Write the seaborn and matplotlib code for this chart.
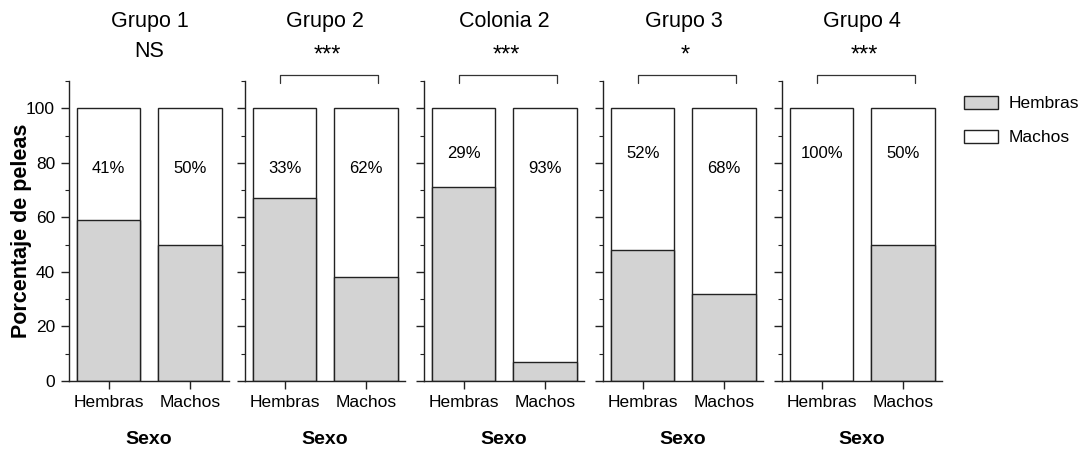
import numpy as np
import pandas as pd
import matplotlib
matplotlib.use("Agg")
import matplotlib.pyplot as plt
from matplotlib.patches import Patch
from matplotlib.ticker import MultipleLocator
import seaborn as sns

# Data: percentage of fights involving males (white part); females fill the rest
groups = ["Grupo 1", "Grupo 2", "Colonia 2", "Grupo 3", "Grupo 4"]
sexes = ["Hembras", "Machos"]
machos_pct = [[41, 50], [33, 62], [29, 93], [52, 68], [100, 50]]
significance = ["NS", "***", "***", "*", "***"]

hembras_pct = [[100 - v for v in row] for row in machos_pct]

sns.set_theme(style="ticks")
plt.rcParams["font.family"] = ["Liberation Sans", "DejaVu Sans"]
plt.rcParams["text.color"] = "black"
plt.rcParams["axes.labelcolor"] = "black"

GRAY = "#d3d3d3"
INK = "#222222"
fig = plt.figure(figsize=(10.78, 4.51), dpi=100)
W, H = 1078, 451
lefts = [69, 245, 424, 603, 782]
ax_w, ax_bottom, ax_h = 160, 70, 300

# vertical position of each percentage label (data units)
label_y = [[78, 78], [78, 78], [83.5, 78], [83.5, 78], [83.5, 83.5]]

for i, g in enumerate(groups):
    ax = fig.add_axes([lefts[i] / W, ax_bottom / H, ax_w / W, ax_h / H])
    df = pd.DataFrame({
        "Sexo": sexes,
        "total": [100, 100],
        "hembras": hembras_pct[i],
    })
    sns.barplot(data=df, x="Sexo", y="total", color="white", edgecolor=INK,
                linewidth=1.0, width=0.78, ax=ax, saturation=1)
    sns.barplot(data=df, x="Sexo", y="hembras", color=GRAY, edgecolor=INK,
                linewidth=1.0, width=0.78, ax=ax, saturation=1)
    ax.set_xlim(-0.49, 1.48)
    ax.set_ylim(0, 110)
    ax.set_yticks([0, 20, 40, 60, 80, 100])
    ax.yaxis.set_minor_locator(MultipleLocator(10))
    for s in ["top", "right"]:
        ax.spines[s].set_visible(False)
    for s in ["left", "bottom"]:
        ax.spines[s].set_linewidth(1.0)
        ax.spines[s].set_color(INK)
    ax.tick_params(axis="both", which="major", length=6, width=1.0, color=INK,
                   labelsize=12.5, pad=4, labelcolor="black")
    ax.tick_params(axis="y", which="minor", length=3, width=0.8, color=INK)
    ax.set_xlabel("Sexo", fontsize=14, fontweight="bold", labelpad=15)
    if i == 0:
        ax.set_ylabel("Porcentaje de peleas", fontsize=15.5, fontweight="bold",
                      labelpad=-4)
    else:
        ax.set_ylabel("")
        ax.set_yticklabels([])

    for j in range(2):
        ax.text(j, label_y[i][j], f"{machos_pct[i][j]}%", ha="center", va="center",
                fontsize=12)

    ax.text(0.5, 132, g, ha="center", va="center", fontsize=15.5, clip_on=False)
    if significance[i] == "NS":
        ax.text(0.5, 121, "NS", ha="center", va="center", fontsize=15.5, clip_on=False)
    else:
        ax.text(0.52, 119.5, significance[i], ha="center", va="center", fontsize=17,
                clip_on=False)
        ax.plot([-0.06, -0.06, 1.15, 1.15], [109.2, 112.2, 112.2, 109.2], color="#333333",
                linewidth=0.9, clip_on=False)

handles = [Patch(facecolor=GRAY, edgecolor=INK, label="Hembras"),
           Patch(facecolor="white", edgecolor=INK, label="Machos")]
fig.legend(handles=handles, loc="upper left", bbox_to_anchor=(948 / W, 1 - 80 / H),
           frameon=False, fontsize=12.5, handlelength=2.0, handleheight=0.8,
           labelspacing=1.05, handletextpad=0.6)

fig.savefig("out.png", dpi=100)
